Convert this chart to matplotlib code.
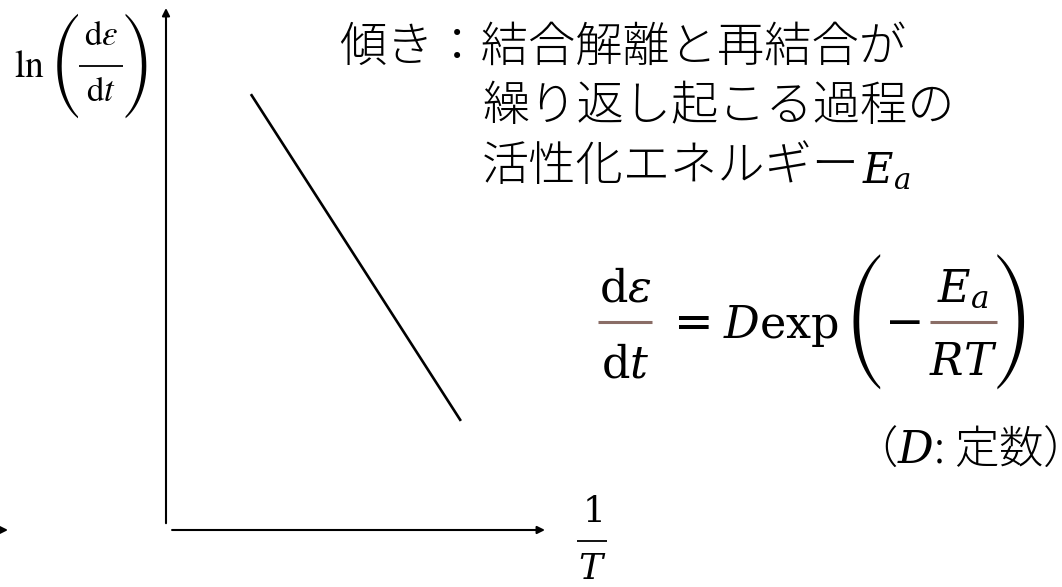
import os
import matplotlib
matplotlib.use("Agg")
import matplotlib.pyplot as plt
from matplotlib.font_manager import FontProperties
from matplotlib.textpath import TextPath

plt.rcParams["font.family"] = ["Noto Sans CJK JP", "DejaVu Sans"]
plt.rcParams["mathtext.fontset"] = "dejavuserif"

# schematic Arrhenius-type plot: ln(dε/dt) against 1/T
inv_T = [0.224, 0.778]
ln_rate = [0.835, 0.209]

slope_lines = ["傾き：結合解離と再結合が", "繰り返し起こる過程の", "活性化エネルギー"]
note_text = "（$D$: 定数）"

W, H = 1062, 587
fig = plt.figure(figsize=(W / 100, H / 100), dpi=100)

# overlay in pixel coordinates (y downwards) for labels and the formula
ov = fig.add_axes([0, 0, 1, 1])
ov.set_xlim(0, W)
ov.set_ylim(H, 0)
ov.axis("off")

# main plot area
x0, x1, yb, yt = 166, 545, 530, 8
ax = fig.add_axes([x0 / W, (H - yb) / H, (x1 - x0) / W, (yb - yt) / H])
ax.set_xlim(0, 1)
ax.set_ylim(0, 1)
ax.axis("off")
ax.patch.set_alpha(0)

arrow = dict(arrowstyle="-|>", color="black", lw=1.5, mutation_scale=11,
             shrinkA=0, shrinkB=0)
ax.annotate("", xy=(0, 1), xytext=(0, 0.013), xycoords="axes fraction",
            arrowprops=arrow, annotation_clip=False)
ax.annotate("", xy=(1, 0), xytext=(0.016, 0), xycoords="axes fraction",
            arrowprops=arrow, annotation_clip=False)
ax.plot(inv_T, ln_rate, color="black", lw=1.9, solid_capstyle="butt")

# arrow tip cut off at the left edge
ov.annotate("", xy=(8, 530), xytext=(-30, 530), arrowprops=arrow,
            annotation_clip=False)

# tall thin parentheses from the STIX size-variant font
paren_font = FontProperties(
    fname=os.path.join(matplotlib.get_data_path(), "fonts", "ttf", "STIXSizFourSymReg.ttf"))


def paren(ch, xc, yc, height_px):
    ext = TextPath((0, 0), ch, size=100, prop=paren_font).get_extents()
    fs = height_px / (ext.height / 100) * 0.72
    ov.text(xc, yc, ch, fontproperties=paren_font, fontsize=fs,
            ha="center", va="center")


def frac(xc, y_bar, num, den, fs, x_from, x_to, num_base, den_base,
         bar_color="black", bar_lw=1.5, math_font="dejavuserif"):
    ov.text(xc, num_base, num, fontsize=fs, ha="center", va="baseline",
            math_fontfamily=math_font)
    ov.text(xc, den_base, den, fontsize=fs, ha="center", va="baseline",
            math_fontfamily=math_font)
    ov.plot([x_from, x_to], [y_bar, y_bar], color=bar_color, lw=bar_lw,
            solid_capstyle="butt")


# y-axis label ln(dε/dt)
ov.text(14, 77, r"$\mathrm{ln}$", fontsize=27, ha="left", va="baseline",
        math_fontfamily="stix")
paren("(", 67, 66, 105)
frac(101, 66, r"$\mathrm{d}\varepsilon$", r"$\mathrm{d}t$", 25,
     79, 123, 45, 101, bar_lw=1.3, math_font="stix")
paren(")", 136, 66, 105)

# x-axis label 1/T
frac(592, 541, r"$1$", r"$T$", 26, 577, 607, 522, 579, bar_lw=1.3)

# slope description
jp = dict(fontsize=34, fontweight="light", ha="left", va="center")
ov.text(339, 47, slope_lines[0], **jp)
ov.text(482, 106, slope_lines[1], **jp)
ov.text(482, 167, slope_lines[2], **jp)
ov.text(862, 182, r"$E_a$", fontsize=30, ha="left", va="baseline")

# rate equation  dε/dt = D exp(-Ea/RT)
bar_color = "#8a6d66"
frac(625, 322, r"$\mathrm{d}\varepsilon$", r"$\mathrm{d}t$", 32,
     598, 652, 301, 377, bar_color=bar_color, bar_lw=2.2)
ov.text(688, 322, r"$=$", fontsize=34, ha="center", va="center")
ov.text(723, 338, r"$D\mathrm{exp}$", fontsize=32, ha="left", va="baseline")
paren("(", 865, 322, 135)
ov.text(902, 322, r"$-$", fontsize=34, ha="center", va="center")
frac(963, 322, r"$E_a$", r"$RT$", 32, 930, 997, 302, 375,
     bar_color=bar_color, bar_lw=2.2)
paren(")", 1011, 322, 135)

ov.text(1058, 450, note_text, fontsize=32, fontweight="light",
        ha="right", va="center")

fig.savefig("out.png", dpi=100)
